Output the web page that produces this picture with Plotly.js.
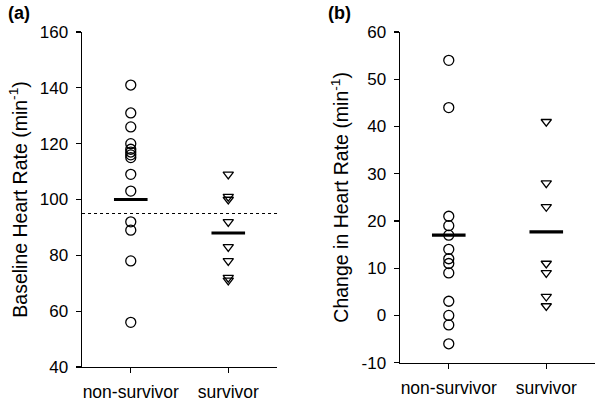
<!DOCTYPE html>
<html>
<head>
<meta charset="utf-8">
<script src="https://cdn.plot.ly/plotly-3.0.1.min.js"></script>
<style>html,body{margin:0;padding:0;background:#fff;}#chart{width:600px;height:402px;}</style>
</head>
<body>
<div id="chart"></div>
<script>
const categories = ["non-survivor", "survivor"];
// Panel (a): baseline heart rate (min^-1)
const baselineNonSurvivor = [141, 131, 126, 120, 118, 117, 116, 115, 109, 103, 92, 89, 78, 56];
const baselineSurvivor = [109, 101, 100, 92, 83, 78, 72, 71];
const baselineBars = [100, 88];
const baselineCutoff = 95;
// Panel (b): change in heart rate (min^-1)
const changeNonSurvivor = [54, 44, 21, 19, 17, 14, 12, 11, 9, 3, 0, -2, -6];
const changeSurvivor = [41, 28, 23, 11, 9, 4, 2];
const changeBars = [17, 17.7];
const yTicksA = [40, 60, 80, 100, 120, 140, 160];
const yTicksB = [-10, 0, 10, 20, 30, 40, 50, 60];
const yTickTextB = ["-10", "0", "10", "20", "30", "40", "50", "60"];

const circle = {symbol: "circle-open", size: 10, color: "#000", line: {width: 1.3, color: "#000"}};
const tri = {symbol: "triangle-down-open", size: 9, color: "#000", line: {width: 1.3, color: "#000"}};
const bar = {symbol: "line-ew-open", size: 24, color: "#000", line: {width: 3.2, color: "#000"}};

function rep(c, arr) { return arr.map(() => c); }

const traces = [
  {x: rep(categories[0], baselineNonSurvivor), y: baselineNonSurvivor, type: "scatter", mode: "markers", marker: circle, xaxis: "x", yaxis: "y"},
  {x: rep(categories[1], baselineSurvivor), y: baselineSurvivor, type: "scatter", mode: "markers", marker: tri, xaxis: "x", yaxis: "y"},
  {x: categories, y: baselineBars, type: "scatter", mode: "markers", marker: bar, xaxis: "x", yaxis: "y"},
  {x: rep(categories[0], changeNonSurvivor), y: changeNonSurvivor, type: "scatter", mode: "markers", marker: circle, xaxis: "x2", yaxis: "y2"},
  {x: rep(categories[1], changeSurvivor), y: changeSurvivor, type: "scatter", mode: "markers", marker: tri, xaxis: "x2", yaxis: "y2"},
  {x: categories, y: changeBars, type: "scatter", mode: "markers", marker: bar, xaxis: "x2", yaxis: "y2"}
];

const font = {family: "Liberation Sans, Arial, sans-serif", color: "#000"};
const xCommon = {
  type: "category", categoryorder: "array", categoryarray: categories, range: [-0.5, 1.5],
  showline: true, linecolor: "#000", linewidth: 1.5, ticks: "outside", ticklen: 5, tickwidth: 1.3, tickcolor: "#000",
  showgrid: false, zeroline: false, tickfont: {size: 17.5}, ticklabelstandoff: 4, fixedrange: true
};
const yCommon = {
  showline: true, linecolor: "#000", linewidth: 1.5, ticks: "outside", ticklen: 5, tickwidth: 1.3, tickcolor: "#000",
  showgrid: false, zeroline: false, tickfont: {size: 17}, ticklabelstandoff: 4, fixedrange: true
};

const layout = {
  width: 600, height: 402,
  margin: {l: 0, r: 0, t: 0, b: 0},
  paper_bgcolor: "#fff", plot_bgcolor: "#fff",
  font: font, showlegend: false,
  xaxis: Object.assign({}, xCommon, {domain: [0.1367, 0.4617], anchor: "y"}),
  yaxis: Object.assign({}, yCommon, {domain: [0.0871, 0.9204], anchor: "x", range: [40, 160], tickvals: yTicksA,
    title: {text: "Baseline Heart Rate (min<sup>-1</sup>)", font: {size: 19.5}, standoff: 7}}),
  xaxis2: Object.assign({}, xCommon, {domain: [0.6667, 0.9917], anchor: "y2"}),
  yaxis2: Object.assign({}, yCommon, {domain: [0.0978, 0.9204], anchor: "x2", range: [-10, 60], tickvals: yTicksB, ticktext: yTickTextB,
    title: {text: "Change in Heart Rate (min<sup>-1</sup>)", font: {size: 19.5}, standoff: 7}}),
  shapes: [
    {type: "line", xref: "x domain", yref: "y", x0: 0, x1: 1, y0: baselineCutoff, y1: baselineCutoff,
     line: {color: "#000", width: 1.1, dash: "dot"}}
  ],
  annotations: [
    {text: "<b>(a)</b>", xref: "paper", yref: "paper", x: 6/600, y: 1 - 13/402, xanchor: "left", yanchor: "middle", showarrow: false, font: {size: 18}},
    {text: "<b>(b)</b>", xref: "paper", yref: "paper", x: 326/600, y: 1 - 13/402, xanchor: "left", yanchor: "middle", showarrow: false, font: {size: 18}}
  ]
};

Plotly.newPlot("chart", traces, layout, {staticPlot: true, displayModeBar: false});
</script>
</body>
</html>
